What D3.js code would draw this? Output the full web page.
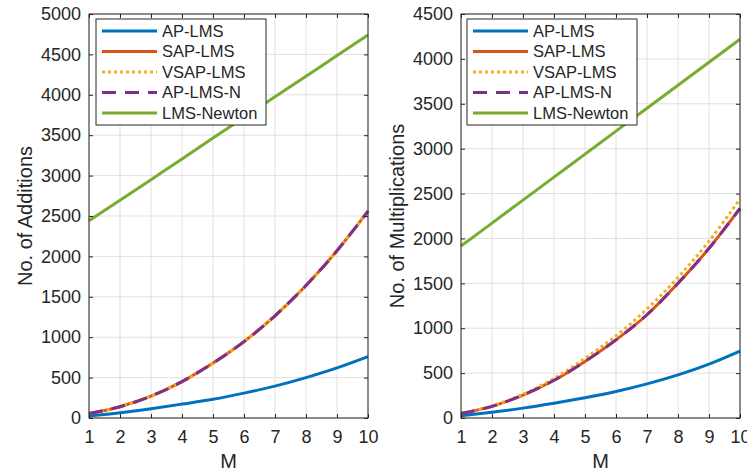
<!DOCTYPE html>
<html>
<head>
<meta charset="utf-8">
<script src="https://cdn.jsdelivr.net/npm/d3@7"></script>
<style>
  body { margin: 0; background: #fff; }
  svg text { font-family: "Liberation Sans", Arial, sans-serif; fill: #262626; }
</style>
</head>
<body>
<svg id="chart" width="747" height="476"></svg>
<script>
// x values
var M = [1, 2, 3, 4, 5, 6, 7, 8, 9, 10];

// left panel: additions
var addAP     = [25, 65, 115, 172, 232, 308, 395, 500, 620, 760];
var addSAP    = [55, 140, 270, 450, 680, 945, 1265, 1640, 2070, 2560];
var addVSAP   = [55, 140, 270, 450, 680, 945, 1265, 1640, 2070, 2560];
var addAPN    = [55, 140, 270, 450, 680, 945, 1265, 1640, 2070, 2560];
var addNewton = [2440, 2695, 2950, 3205, 3465, 3720, 3975, 4230, 4485, 4740];

// right panel: multiplications
var mulAP     = [25, 65, 110, 165, 225, 295, 380, 480, 600, 745];
var mulSAP    = [50, 130, 255, 420, 630, 870, 1150, 1500, 1890, 2335];
var mulVSAP   = [55, 135, 265, 440, 665, 915, 1215, 1565, 1970, 2440];
var mulAPN    = [50, 130, 255, 420, 630, 870, 1150, 1500, 1890, 2335];
var mulNewton = [1915, 2171, 2427, 2683, 2939, 3195, 3451, 3707, 3963, 4219];

var names = ["AP-LMS", "SAP-LMS", "VSAP-LMS", "AP-LMS-N", "LMS-Newton"];
var colors = ["#0072BD", "#D95319", "#EDB120", "#7E2F8E", "#77AC30"];
var dashes = [null, null, "3,3", "14,9", null];

var svg = d3.select("#chart");
var axisColor = "#262626";

function panel(left, right, ymax, ylabel, series, legX) {
  var top = 14, bottom = 418;
  var x = d3.scaleLinear().domain([1, 10]).range([left, right]);
  var y = d3.scaleLinear().domain([0, ymax]).range([bottom, top]);
  var yticks = d3.range(0, ymax + 1, 500);
  var g = svg.append("g");

  // grid
  g.selectAll(".gx").data(M).enter().append("line")
    .attr("x1", d => x(d)).attr("x2", d => x(d))
    .attr("y1", top).attr("y2", bottom)
    .attr("stroke", "#e1e1e1").attr("stroke-width", 1);
  g.selectAll(".gy").data(yticks).enter().append("line")
    .attr("x1", left).attr("x2", right)
    .attr("y1", d => y(d)).attr("y2", d => y(d))
    .attr("stroke", "#e1e1e1").attr("stroke-width", 1);

  // lines
  var line = d3.line().x((d, i) => x(M[i])).y(d => y(d)).curve(d3.curveMonotoneX);
  series.forEach(function(s, i) {
    g.append("path").datum(s)
      .attr("d", line)
      .attr("fill", "none")
      .attr("stroke", colors[i])
      .attr("stroke-width", 3)
      .attr("stroke-dasharray", dashes[i]);
  });

  // box
  g.append("rect").attr("x", left).attr("y", top)
    .attr("width", right - left).attr("height", bottom - top)
    .attr("fill", "none").attr("stroke", axisColor).attr("stroke-width", 1);

  // axes with inner ticks
  var xa = g.append("g").attr("transform", "translate(0," + bottom + ")")
    .call(d3.axisBottom(x).tickValues(M).tickSize(-4).tickFormat(d3.format("d")));
  var xt = g.append("g").attr("transform", "translate(0," + top + ")")
    .call(d3.axisTop(x).tickValues(M).tickSize(-4).tickFormat(""));
  var ya = g.append("g").attr("transform", "translate(" + left + ",0)")
    .call(d3.axisLeft(y).tickValues(yticks).tickSize(-4).tickPadding(8).tickFormat(d3.format("d")));
  var yr = g.append("g").attr("transform", "translate(" + right + ",0)")
    .call(d3.axisRight(y).tickValues(yticks).tickSize(-4).tickFormat(""));
  [xa, xt, ya, yr].forEach(function(a) {
    a.select(".domain").remove();
    a.selectAll("line").attr("stroke", axisColor);
    a.selectAll("text").style("font-size", "18px").attr("fill", axisColor)
      .style("font-family", '"Liberation Sans", Arial, sans-serif');
  });
  xa.selectAll("text").attr("dy", "0.71em").attr("y", 12);

  // axis labels
  g.append("text").attr("x", (left + right) / 2).attr("y", 468)
    .attr("text-anchor", "middle").style("font-size", "20px").text("M");
  g.append("text")
    .attr("transform", "translate(" + (left - 57) + "," + ((top + bottom) / 2) + ") rotate(-90)")
    .attr("text-anchor", "middle").style("font-size", "20px").text(ylabel);

  // legend
  var lg = g.append("g").attr("transform", "translate(" + legX + ",19)");
  lg.append("rect").attr("width", 170).attr("height", 106)
    .attr("fill", "#fff").attr("stroke", axisColor).attr("stroke-width", 1);
  names.forEach(function(n, i) {
    var yy = 12 + i * 20.5;
    lg.append("line").attr("x1", 6).attr("x2", 61).attr("y1", yy).attr("y2", yy)
      .attr("stroke", colors[i]).attr("stroke-width", 3)
      .attr("stroke-dasharray", dashes[i]);
    lg.append("text").attr("x", 66).attr("y", yy).attr("dy", "0.35em")
      .style("font-size", "16.5px").text(n);
  });
}

panel(89, 368, 5000, "No. of Additions", [addAP, addSAP, addVSAP, addAPN, addNewton], 96);
panel(461, 740, 4500, "No. of Multiplications", [mulAP, mulSAP, mulVSAP, mulAPN, mulNewton], 467);
</script>
</body>
</html>
